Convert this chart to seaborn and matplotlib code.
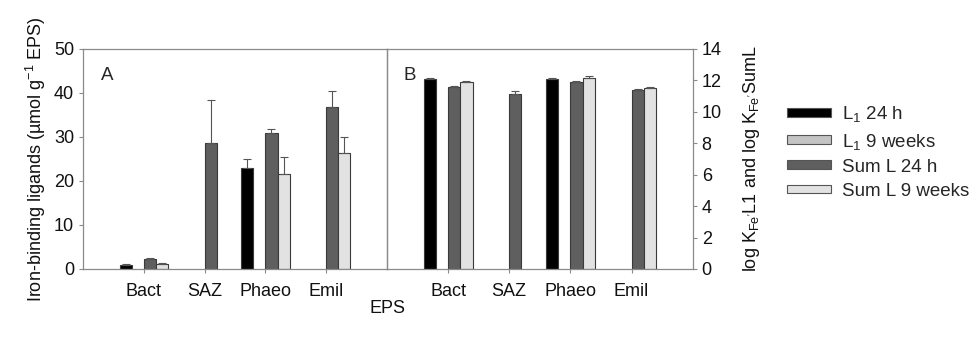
import numpy as np
import pandas as pd
import matplotlib
matplotlib.use("Agg")
import matplotlib.pyplot as plt
from matplotlib.patches import Rectangle
import seaborn as sns

sns.set_theme(style="white")
plt.rcParams["font.family"] = ["Liberation Sans", "DejaVu Sans"]
plt.rcParams["mathtext.fontset"] = "custom"
plt.rcParams["mathtext.rm"] = "Liberation Sans"
plt.rcParams["mathtext.it"] = "Liberation Sans"

categories = ["Bact", "SAZ", "Phaeo", "Emil"]
series = ["L1 24 h", "L1 9 weeks", "Sum L 24 h", "Sum L 9 weeks"]
series_labels = ["L$_1$ 24 h", "L$_1$ 9 weeks", "Sum L 24 h", "Sum L 9 weeks"]
colors = ["#000000", "#c4c4c4", "#5f5f5f", "#e2e2e2"]

# Panel A: ligand concentrations (NaN = not determined)
lig_l1_24h = [1.0, np.nan, 23.0, np.nan]
lig_l1_9w = [np.nan, np.nan, np.nan, np.nan]
lig_sum_24h = [2.3, 28.7, 30.9, 36.9]
lig_sum_9w = [1.2, np.nan, 21.5, 26.3]
lig_err_l1_24h = [0.1, np.nan, 2.1, np.nan]
lig_err_l1_9w = [np.nan, np.nan, np.nan, np.nan]
lig_err_sum_24h = [0.2, 9.8, 1.0, 3.5]
lig_err_sum_9w = [0.1, np.nan, 3.9, 3.6]

# Panel B: conditional stability constants
logk_l1_24h = [12.1, np.nan, 12.1, np.nan]
logk_l1_9w = [np.nan, np.nan, np.nan, np.nan]
logk_sum_24h = [11.6, 11.15, 11.9, 11.4]
logk_sum_9w = [11.9, np.nan, 12.15, 11.5]
logk_err_l1_24h = [0.06, np.nan, 0.06, np.nan]
logk_err_l1_9w = [np.nan, np.nan, np.nan, np.nan]
logk_err_sum_24h = [0.05, 0.2, 0.03, 0.05]
logk_err_sum_9w = [0.05, np.nan, 0.15, 0.05]

FS = 13


def long_table(vals, errs):
    rows = []
    for s, v_list, e_list in zip(series, vals, errs):
        for c, v, e in zip(categories, v_list, e_list):
            if not np.isnan(v):
                rows.append({"EPS": c, "series": s, "value": v, "err": e})
    return pd.DataFrame(rows)


df_a = long_table([lig_l1_24h, lig_l1_9w, lig_sum_24h, lig_sum_9w],
                  [lig_err_l1_24h, lig_err_l1_9w, lig_err_sum_24h, lig_err_sum_9w])
df_b = long_table([logk_l1_24h, logk_l1_9w, logk_sum_24h, logk_sum_9w],
                  [logk_err_l1_24h, logk_err_l1_9w, logk_err_sum_24h, logk_err_sum_9w])

fig = plt.figure(figsize=(9.77, 3.40), dpi=100)
ax_a = fig.add_axes([0.085, 0.209, 0.311, 0.647])
ax_b = fig.add_axes([0.396, 0.209, 0.313, 0.647])
ax_b.patch.set_alpha(0)

spine_col = "#8a8a8a"
palette = dict(zip(series, colors))


def draw_panel(ax, df):
    sns.barplot(data=df, x="EPS", y="value", hue="series", order=categories,
                hue_order=series, palette=palette, width=0.8, errorbar=None,
                edgecolor="#3a3a3a", linewidth=0.8, legend=False, ax=ax)
    # upward-only error bars; each bar is matched to its row by value
    bars = [p for p in ax.patches if p.get_height() > 0]
    for _, row in df.iterrows():
        ci = categories.index(row["EPS"])
        cand = [p for p in bars
                if abs(p.get_x() + p.get_width() / 2 - ci) < 0.45
                and abs(p.get_height() - row["value"]) < 1e-9]
        if not cand:
            continue
        p = cand[0]
        xc = p.get_x() + p.get_width() / 2
        ax.errorbar([xc], [row["value"]], yerr=[[0], [row["err"]]],
                    fmt="none", ecolor="#555555", elinewidth=0.8,
                    capsize=3, capthick=0.8)
    ax.set_xlim(-1, 4)
    ax.set_xlabel("")
    ax.set_ylabel("")
    for sp in ax.spines.values():
        sp.set_color(spine_col)
        sp.set_linewidth(0.9)
    ax.tick_params(axis="both", colors=spine_col, labelcolor="#111111",
                   length=3, width=0.8, labelsize=FS, direction="out")
    ax.tick_params(axis="x", pad=7, bottom=True)


draw_panel(ax_a, df_a)
draw_panel(ax_b, df_b)

ax_a.set_ylim(0, 50)
ax_a.set_yticks([0, 10, 20, 30, 40, 50])
ax_a.tick_params(axis="y", left=True, right=False)
ax_a.set_ylabel("Iron-binding ligands (µmol g$^{-1}$ EPS)", fontsize=FS,
                color="#111111", labelpad=4)
ax_a.text(0.06, 0.86, "A", transform=ax_a.transAxes, fontsize=FS + 0.5)

ax_b.set_ylim(0, 14)
ax_b.set_yticks(range(0, 15, 2))
ax_b.yaxis.tick_right()
ax_b.yaxis.set_label_position("right")
ax_b.tick_params(axis="y", left=False, right=True, labelsize=FS)
ax_b.set_ylabel("log K$_{Fe'}$L1 and log K$_{Fe'}$SumL", fontsize=FS,
                color="#111111", labelpad=14)
ax_b.text(0.055, 0.86, "B", transform=ax_b.transAxes, fontsize=FS + 0.5)

fig.text(0.397, 0.092, "EPS", ha="center", va="center", fontsize=FS,
         color="#111111")

# legend with flat bar swatches
handles = [Rectangle((0, 0), 1, 1, facecolor=c, edgecolor="#555555", linewidth=0.8)
           for c in colors]
fig.legend(handles, series_labels, loc="upper left", bbox_to_anchor=(0.806, 0.693),
           frameon=False, fontsize=13.5, handlelength=2.3, handleheight=0.35,
           handletextpad=0.6, labelspacing=0.38, borderaxespad=0, borderpad=0)

fig.savefig("out.png", dpi=100)
